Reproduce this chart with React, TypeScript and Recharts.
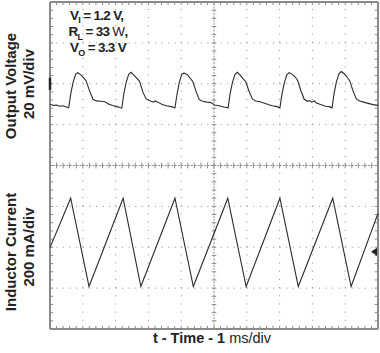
import { LineChart, Line, XAxis, YAxis, ReferenceLine, ReferenceDot } from 'recharts';

// ch1: output voltage, [ms, mV relative to screen centre] (20 mV/div)
const outputVoltage: [number, number][] = [
  [0, 30.0], [0.1, 29.4], [0.2, 29.6], [0.3, 29.0], [0.4, 29.2], [0.5, 28.6], [0.57, 28.2],
  [0.63, 34.8], [0.7, 40.4], [0.78, 44.6], [0.85, 45.4], [0.95, 44.2], [1.02, 43.0], [1.1, 41.4],
  [1.21, 36.4], [1.31, 32.4], [1.41, 31.6], [1.55, 31.4], [1.67, 31.2], [1.8, 30.0], [1.91, 29.4],
  [2.05, 28.8], [2.12, 28.4], [2.19, 28.2],
  [2.25, 35.0], [2.32, 40.6], [2.4, 44.6], [2.47, 45.6], [2.57, 44.0], [2.65, 42.6], [2.73, 41.2],
  [2.83, 36.0], [2.93, 32.6], [3.03, 31.8], [3.15, 31.0], [3.2, 31.6], [3.29, 31.0], [3.42, 29.8],
  [3.55, 29.2], [3.7, 28.8], [3.81, 28.2],
  [3.87, 34.6], [3.94, 40.6], [4.02, 44.8], [4.09, 45.2], [4.19, 44.4], [4.27, 42.8], [4.35, 41.2],
  [4.45, 36.4], [4.55, 32.2], [4.65, 31.4], [4.78, 31.0], [4.9, 30.8], [5.02, 29.6], [5.15, 29.2],
  [5.3, 28.6], [5.43, 28.2],
  [5.49, 35.0], [5.56, 40.4], [5.64, 44.6], [5.71, 45.6], [5.81, 44.0], [5.89, 42.4], [5.97, 41.0],
  [6.07, 36.2], [6.17, 32.6], [6.27, 31.6], [6.4, 31.2], [6.52, 30.6], [6.65, 29.8], [6.78, 29.2],
  [6.92, 28.8], [7.01, 28.2],
  [7.07, 34.8], [7.14, 40.2], [7.22, 44.4], [7.29, 45.4], [7.39, 44.6], [7.47, 43.4], [7.55, 41.6],
  [7.65, 36.6], [7.75, 32.4], [7.85, 31.4], [7.92, 31.8], [7.98, 31.0], [8.06, 31.6], [8.12, 30.6],
  [8.25, 29.8], [8.4, 29.0], [8.52, 28.8], [8.6, 28.2],
  [8.66, 35.2], [8.73, 40.8], [8.81, 45.0], [8.88, 46.0], [8.98, 44.8], [9.06, 43.2], [9.14, 41.4],
  [9.24, 36.4], [9.34, 32.6], [9.44, 31.6], [9.56, 31.0], [9.7, 30.4], [9.85, 29.8], [10, 29.4],
];

// ch2: inductor current, [ms, mA relative to screen centre] (200 mA/div)
const inductorCurrent: [number, number][] = [
  [0, -402], [0.63, -160], [1.19, -592], [2.23, -160], [2.77, -592], [3.81, -160], [4.37, -592],
  [5.42, -160], [5.98, -592], [7.01, -160], [7.57, -592], [8.62, -160], [9.18, -592], [10, -234],
];

const ch1Marker = [37, 43]; // mV
const ch2Marker = -422; // mA

const vData = outputVoltage.map(([t, mv]) => ({ t, mv }));
const iData = inductorCurrent.map(([t, ma]) => ({ t, ma }));

// graticule: 10 x 8 divisions, 5 minor ticks per division
const majorT = [1, 2, 3, 4, 6, 7, 8, 9];
const majorMv = [-60, -40, -20, 20, 40, 60];
const timeTicks = Array.from({ length: 49 }, (_, i) => +((i + 1) * 0.2).toFixed(1));
const mvTicks = Array.from({ length: 39 }, (_, i) => -76 + i * 4);

const GRID = '#8c8c8c';
const FRAME = '#8a8a8a';
const TRACE = '#2b2b2b';
const FONT = '"Liberation Sans", Arial, sans-serif';

const Arrow = (props: any) => {
  const { cx, cy } = props;
  return <path d={`M${cx - 7},${cy} L${cx - 1},${cy - 4} L${cx - 1},${cy + 4} Z`} fill="#222" />;
};

export default function App() {
  return (
    <div style={{ position: 'absolute', left: 0, top: 0, width: 380, height: 353, background: '#fff' }}>
      <LineChart width={380} height={353} margin={{ top: 2, right: 2, bottom: 24, left: 50 }}>
        <XAxis type="number" dataKey="t" domain={[0, 10]} hide allowDuplicatedCategory={false} />
        <YAxis type="number" domain={[-80, 80]} hide />
        <YAxis yAxisId="i" type="number" domain={[-800, 800]} hide />

        {majorMv.map((v) => (
          <ReferenceLine key={'gy' + v} y={v} stroke={GRID} strokeDasharray="1 5.56" />
        ))}
        {majorT.map((t) => (
          <ReferenceLine key={'gx' + t} x={t} stroke={GRID} strokeDasharray="1 7.18" />
        ))}

        <ReferenceLine y={0} stroke={GRID} strokeDasharray="2 1.28" />
        <ReferenceLine x={5} stroke={GRID} strokeDasharray="2 1.27" />
        {timeTicks.map((t) => (
          <ReferenceLine key={'cx' + t} segment={[{ x: t, y: -1.4 }, { x: t, y: 1.4 }]} stroke={GRID} />
        ))}
        {mvTicks.map((v) => (
          <ReferenceLine key={'cy' + v} segment={[{ x: 4.93, y: v }, { x: 5.07, y: v }]} stroke={GRID} />
        ))}

        {/* frame with inward minor ticks */}
        {timeTicks.map((t) => (
          <ReferenceLine key={'bt' + t} segment={[{ x: t, y: -80 }, { x: t, y: -78.5 }]} stroke={FRAME} />
        ))}
        {timeTicks.map((t) => (
          <ReferenceLine key={'tt' + t} segment={[{ x: t, y: 80 }, { x: t, y: 78.5 }]} stroke={FRAME} />
        ))}
        {mvTicks.map((v) => (
          <ReferenceLine key={'lt' + v} segment={[{ x: 0, y: v }, { x: 0.1, y: v }]} stroke={FRAME} />
        ))}
        {mvTicks.map((v) => (
          <ReferenceLine key={'rt' + v} segment={[{ x: 10, y: v }, { x: 9.9, y: v }]} stroke={FRAME} />
        ))}
        <ReferenceLine x={0} stroke={FRAME} strokeWidth={2} />
        <ReferenceLine x={10} stroke={FRAME} strokeWidth={2} />
        <ReferenceLine y={80} stroke={FRAME} strokeWidth={2} />
        <ReferenceLine y={-80} stroke={FRAME} strokeWidth={2} />

        <Line data={vData} dataKey="mv" type="linear" stroke={TRACE} strokeWidth={1.1} dot={false}
              isAnimationActive={false} />
        <Line data={iData} dataKey="ma" yAxisId="i" type="linear" stroke={TRACE} strokeWidth={1.1} dot={false}
              isAnimationActive={false} />

        <ReferenceLine segment={[{ x: 0, y: ch1Marker[0] }, { x: 0, y: ch1Marker[1] }]} stroke="#222"
                       strokeWidth={2.5} ifOverflow="visible" />
        <ReferenceDot x={10} y={ch2Marker} yAxisId="i" r={4} shape={Arrow} ifOverflow="visible" />
      </LineChart>

      <svg width={380} height={353} style={{ position: 'absolute', left: 0, top: 0, pointerEvents: 'none' }}
           fontFamily={FONT} fontWeight="bold" fill="#222">
        <text x={70} y={19.5} fontSize={13.5} letterSpacing={-0.7}>
          V<tspan fontSize={9} dy={3.5}>I</tspan><tspan dy={-3.5}> = 1.2 V,</tspan>
        </text>
        <text x={68.5} y={36} fontSize={13.5} letterSpacing={-0.7}>
          R<tspan fontSize={9} dy={3.5}>L</tspan><tspan dy={-3.5}> = 33 </tspan>
          <tspan fontWeight="normal">W</tspan>,
        </text>
        <text x={70} y={52} fontSize={13.5} letterSpacing={-0.7}>
          V<tspan fontSize={9} dy={3.5}>O</tspan><tspan dy={-3.5}> = 3.3 V</tspan>
        </text>

        <text transform="translate(10,86) rotate(-90)" textAnchor="middle" dominantBaseline="central" fontSize={15}>
          Output Voltage
        </text>
        <text transform="translate(28,84) rotate(-90)" textAnchor="middle" dominantBaseline="central" fontSize={15}>
          20 mV/div
        </text>
        <text transform="translate(10,252) rotate(-90)" textAnchor="middle" dominantBaseline="central" fontSize={15}>
          Inductor Current
        </text>
        <text transform="translate(28,247) rotate(-90)" textAnchor="middle" dominantBaseline="central" fontSize={15}>
          200 mA/div
        </text>

        <text x={212} y={343} textAnchor="middle" fontSize={14.5}>
          t - Time - 1 <tspan fontWeight="normal">ms/div</tspan>
        </text>
      </svg>
    </div>
  );
}
